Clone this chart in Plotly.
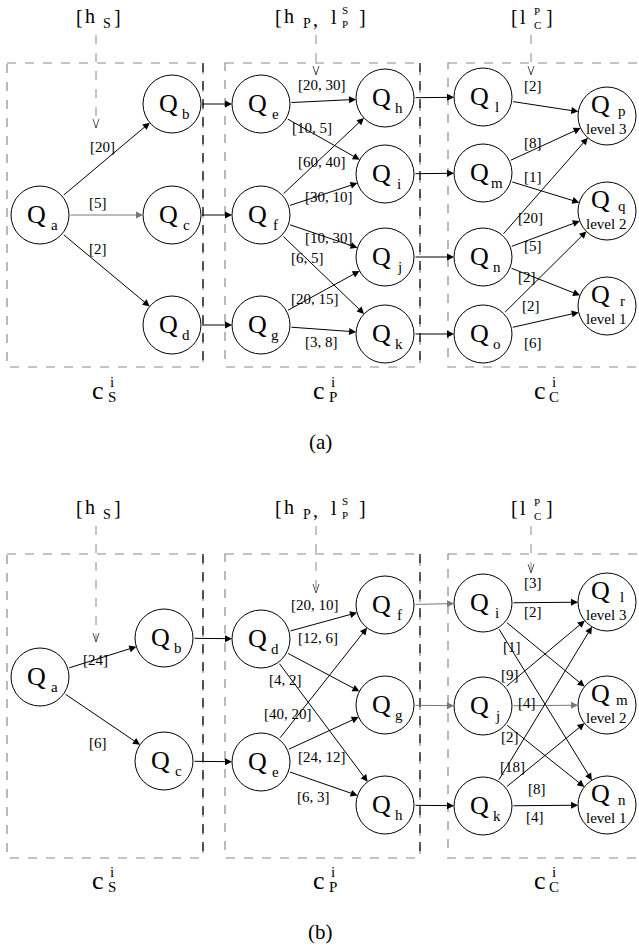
import math
import plotly.graph_objects as go

FONT = "Liberation Serif, Times New Roman, Times, serif"

# ---------------- data ----------------
# panel (a)
a_edges = [("a", "b", "[20]"), ("a", "c", "[5]"), ("a", "d", "[2]"),
           ("b", "e", ""), ("c", "f", ""), ("d", "g", ""),
           ("e", "h", "[20, 30]"), ("e", "i", "[10, 5]"),
           ("f", "h", "[60, 40]"), ("f", "i", "[30, 10]"), ("f", "j", "[10, 30]"), ("f", "k", "[6, 5]"),
           ("g", "j", "[20, 15]"), ("g", "k", "[3, 8]"),
           ("h", "l", ""), ("i", "m", ""), ("j", "n", ""), ("k", "o", ""),
           ("l", "p", "[2]"), ("m", "p", "[8]"), ("m", "q", "[1]"),
           ("n", "p", "[20]"), ("n", "q", "[5]"), ("n", "r", "[2]"),
           ("o", "q", "[2]"), ("o", "r", "[6]")]
a_levels = {"p": "level 3", "q": "level 2", "r": "level 1"}

# panel (b)
b_edges = [("a", "b", "[24]"), ("a", "c", "[6]"),
           ("b", "d", ""), ("c", "e", ""),
           ("d", "f", "[20, 10]"), ("d", "g", "[12, 6]"), ("d", "h", "[4, 2]"),
           ("e", "f", "[40, 20]"), ("e", "g", "[24, 12]"), ("e", "h", "[6, 3]"),
           ("f", "i", ""), ("g", "j", ""), ("h", "k", ""),
           ("i", "l", "[3]"), ("i", "m", "[2]"), ("i", "n", "[1]"),
           ("j", "l", "[9]"), ("j", "m", "[4]"), ("j", "n", "[2]"),
           ("k", "l", "[18]"), ("k", "m", "[8]"), ("k", "n", "[4]")]
b_levels = {"l": "level 3", "m": "level 2", "n": "level 1"}

panel_names = ["(a)", "(b)"]
group_labels = [("c", "i", "S"), ("c", "i", "P"), ("c", "i", "C")]

# ---------------- layout (positions in page pixels) & styles ----------------
R = 29
a_pos = {"a": (40, 215), "b": (172, 104), "c": (172, 215), "d": (172, 325),
         "e": (261, 104), "f": (261, 215), "g": (261, 325),
         "h": (385, 98), "i": (385, 174), "j": (385, 257), "k": (385, 334),
         "l": (483, 97), "m": (483, 173), "n": (483, 257), "o": (483, 334),
         "p": (607, 116), "q": (607, 211), "r": (607, 306)}
a_lab = {("a", "b"): (102, 147), ("a", "c"): (98, 203), ("a", "d"): (98, 249),
         ("e", "h"): (322, 85), ("e", "i"): (312, 128), ("f", "h"): (322, 162),
         ("f", "i"): (329, 197), ("f", "j"): (329, 238), ("f", "k"): (307, 258),
         ("g", "j"): (315, 299), ("g", "k"): (321, 342),
         ("l", "p"): (533, 86), ("m", "p"): (533, 143), ("m", "q"): (533, 177),
         ("n", "p"): (530, 218), ("n", "q"): (533, 246), ("n", "r"): (527, 277),
         ("o", "q"): (531, 306), ("o", "r"): (533, 343)}
a_gray = {("a", "c")}

b_pos = {"a": (40, 677), "b": (164, 638), "c": (164, 761),
         "d": (261, 639), "e": (261, 762),
         "f": (385, 605), "g": (385, 705), "h": (385, 805),
         "i": (483, 603), "j": (483, 706), "k": (483, 806),
         "l": (607, 602), "m": (607, 705), "n": (607, 805)}
b_lab = {("a", "b"): (95, 660), ("a", "c"): (98, 743),
         ("d", "f"): (315, 605), ("d", "g"): (318, 638), ("d", "h"): (285, 680),
         ("e", "f"): (288, 714), ("e", "g"): (322, 757), ("e", "h"): (313, 797),
         ("i", "l"): (533, 583), ("i", "m"): (533, 612), ("i", "n"): (512, 647),
         ("j", "l"): (510, 675), ("j", "m"): (527, 703), ("j", "n"): (510, 737),
         ("k", "l"): (512, 767), ("k", "m"): (537, 789), ("k", "n"): (535, 817)}
b_gray = {("f", "i"), ("g", "j"), ("j", "m")}

panels = [
    dict(pos=a_pos, edges=a_edges, lab=a_lab, levels=a_levels, gray=a_gray, top=63, bottom=367,
         head=17, name_y=442, clab_y=390,
         arrows=[(96, 35, 128), (316, 35, 75), (531, 35, 75)]),
    dict(pos=b_pos, edges=b_edges, lab=b_lab, levels=b_levels, gray=b_gray, top=554, bottom=858,
         head=508, name_y=932, clab_y=880,
         arrows=[(96, 526, 642), (316, 526, 593), (531, 526, 573)]),
]

shapes = []
ann = []


def text(x, y, s, size, **kw):
    ann.append(dict(x=x, y=y, text=s, showarrow=False, xanchor=kw.get("xanchor", "center"),
                    yanchor="middle", font=dict(family=FONT, size=size, color="black")))


GRAY = "#8a8a8a"

for pi, P in enumerate(panels):
    top, bot = P["top"], P["bottom"]
    # dashed group boxes
    for (x0, x1) in [(7, 203), (225, 420), (448, 660)]:
        shapes.append(dict(type="rect", x0=x0, x1=x1, y0=top, y1=bot,
                           line=dict(color=GRAY, width=1.2, dash="dash")))
    for xr in (203, 420):
        shapes.append(dict(type="line", x0=xr, x1=xr, y0=top, y1=bot,
                           line=dict(color="#222", width=1.4, dash="dash")))
    # dashed pointers from the top labels
    for (x, y0, y1) in P["arrows"]:
        shapes.append(dict(type="line", x0=x, x1=x, y0=y0, y1=y1,
                           line=dict(color=GRAY, width=1, dash="dash")))
        shapes.append(dict(type="path", path=f"M {x-3},{y1-9} L {x},{y1} L {x+3},{y1-9}",
                           line=dict(color="#555", width=1)))
    # top labels
    h = P["head"]
    text(79, h, "[", 20); text(90, h - 1, "h", 20); text(107, h + 6, "S", 14); text(117, h, "]", 20)
    text(278, h, "[", 20); text(289, h - 1, "h", 20); text(307, h + 6, "P", 14); text(315, h + 2, ",", 20)
    text(334, h, "l", 20); text(345, h - 7, "S", 11); text(345, h + 7, "P", 11); text(362, h, "]", 20)
    text(514, h, "[", 20); text(523, h, "l", 20); text(537, h - 6, "P", 11); text(537, h + 8, "C", 11); text(549, h, "]", 20)
    # group labels
    cy = P["clab_y"]
    for (cx, (c, sup, sub)) in zip((98, 319, 540), group_labels):
        text(cx, cy, c, 26); text(cx + 14, cy - 8, sup, 15); text(cx + 14, cy + 7, sub, 15)
    text(320, P["name_y"], panel_names[pi], 21)

    pos = P["pos"]
    # nodes
    for k, (x, y) in pos.items():
        shapes.append(dict(type="circle", x0=x - R, x1=x + R, y0=y - R, y1=y + R,
                           line=dict(color="black", width=1)))
        if k in P["levels"]:
            text(x - 7, y - 12, "Q", 26); text(x + 15, y - 5, k, 15)
            text(x - 1, y + 13, P["levels"][k], 15)
        else:
            text(x - 4, y - 1, "Q", 26); text(x + 14, y + 10, k, 15)
    # edges
    for (s, t, lab) in P["edges"]:
        x0, y0 = pos[s]; x1, y1 = pos[t]
        d = math.hypot(x1 - x0, y1 - y0)
        ux, uy = (x1 - x0) / d, (y1 - y0) / d
        sx, sy = x0 + ux * R, y0 + uy * R
        ex, ey = x1 - ux * R, y1 - uy * R
        col = "#777" if (s, t) in P["gray"] else "black"
        ann.append(dict(x=ex, y=ey, ax=sx, ay=sy, xref="x", yref="y", axref="x", ayref="y",
                        text="", showarrow=True, arrowhead=2, arrowsize=1.4, arrowwidth=1,
                        arrowcolor=col))
        if lab:
            lx, ly = P["lab"][(s, t)]
            text(lx, ly, lab, 15)

fig = go.Figure()
fig.update_layout(width=639, height=949, margin=dict(l=0, r=0, t=0, b=0),
                  paper_bgcolor="white", plot_bgcolor="white",
                  xaxis=dict(range=[0, 639], visible=False, fixedrange=True),
                  yaxis=dict(range=[949, 0], visible=False, fixedrange=True),
                  shapes=shapes, annotations=ann, showlegend=False)
fig.write_html("out.html")
